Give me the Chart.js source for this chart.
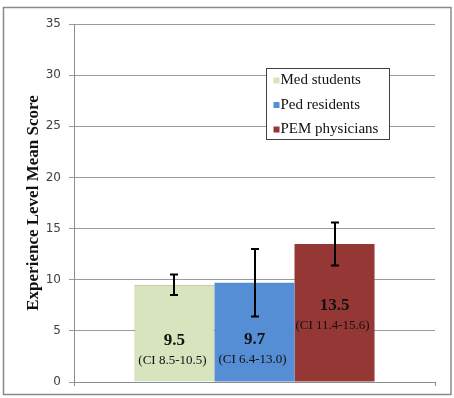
<!DOCTYPE html>
<html>
<head>
<meta charset="utf-8">
<script src="https://cdn.jsdelivr.net/npm/chart.js@4/dist/chart.umd.min.js"></script>
<style>
  html, body { margin: 0; padding: 0; background: #fff; }
  #wrap { width: 454px; height: 398px; position: relative; }
</style>
</head>
<body>
<div id="wrap"><canvas id="c" width="454" height="398"></canvas></div>
<script>
// ---- data ----
const categories = [''];
const groups = ['Med students', 'Ped residents', 'PEM physicians'];
const meanScores = [9.5, 9.7, 13.5];
const ciLow = [8.5, 6.4, 11.4];
const ciHigh = [10.5, 13.0, 15.6];
const ciLabels = ['(CI 8.5-10.5)', '(CI 6.4-13.0)', '(CI 11.4-15.6)'];
const yTicks = [0, 5, 10, 15, 20, 25, 30, 35];

// ---- styles ----
const fillColors = ['#D7E4BD', '#558ED5', '#953735'];
const borderColors = ['#A9BD7E', '#558ED5', '#953735'];
const labelOffsets = [7, 7, -7]; // px offset of value label from bar middle
const serif = '"Liberation Serif", "Times New Roman", serif';

const datasets = groups.map((g, i) => ({
  label: g,
  data: [meanScores[i]],
  backgroundColor: fillColors[i],
  borderColor: borderColors[i],
  borderWidth: i === 0 ? 1 : 0,
  borderSkipped: 'bottom'
}));

const frame = {
  id: 'frame',
  beforeDraw(chart) {
    const ctx = chart.ctx;
    ctx.save();
    ctx.fillStyle = '#fff';
    ctx.fillRect(0, 0, chart.width, chart.height);
    ctx.strokeStyle = '#8a8a8a';
    ctx.lineWidth = 1.5;
    ctx.strokeRect(3.5, 7.5, 447.5, 387);
    ctx.restore();
  }
};

const errorBars = {
  id: 'errorBars',
  afterDatasetsDraw(chart) {
    const ctx = chart.ctx;
    const y = chart.scales.y;
    ctx.save();
    ctx.strokeStyle = '#000';
    ctx.lineWidth = 2;
    chart.data.datasets.forEach((ds, i) => {
      const bar = chart.getDatasetMeta(i).data[0];
      const x = Math.round(bar.x) ;
      const yl = y.getPixelForValue(ciLow[i]);
      const yh = y.getPixelForValue(ciHigh[i]);
      ctx.beginPath();
      ctx.moveTo(x, yl); ctx.lineTo(x, yh);
      ctx.moveTo(x - 4, yl); ctx.lineTo(x + 4, yl);
      ctx.moveTo(x - 4, yh); ctx.lineTo(x + 4, yh);
      ctx.stroke();
    });
    ctx.restore();
  }
};

const barLabels = {
  id: 'barLabels',
  afterDatasetsDraw(chart) {
    const ctx = chart.ctx;
    ctx.save();
    ctx.textAlign = 'center';
    ctx.textBaseline = 'middle';
    ctx.fillStyle = '#111';
    chart.data.datasets.forEach((ds, i) => {
      const bar = chart.getDatasetMeta(i).data[0];
      const mid = (bar.y + bar.base) / 2 + labelOffsets[i];
      ctx.font = 'bold 17px ' + serif;
      ctx.fillText(meanScores[i].toFixed(1), bar.x, mid);
      ctx.font = '13px ' + serif;
      ctx.fillText(ciLabels[i], bar.x - 2, mid + 20);
    });
    ctx.restore();
  }
};

const boxLegend = {
  id: 'boxLegend',
  afterDraw(chart) {
    const ctx = chart.ctx;
    const a = chart.chartArea;
    const left = a.left + 192.5, top = a.top + 44.5, w = 123, h = 71;
    ctx.save();
    ctx.fillStyle = '#fff';
    ctx.fillRect(left, top, w, h);
    ctx.strokeStyle = '#404040';
    ctx.lineWidth = 1;
    ctx.strokeRect(left, top, w, h);
    ctx.font = '15px ' + serif;
    ctx.textBaseline = 'middle';
    ctx.textAlign = 'left';
    chart.data.datasets.forEach((ds, i) => {
      const cy = top + 12 + i * 24.5;
      ctx.fillStyle = ds.backgroundColor;
      ctx.fillRect(left + 7, cy - 3, 6, 6);
      ctx.fillStyle = '#111';
      ctx.fillText(ds.label, left + 14, cy);
    });
    ctx.restore();
  }
};

new Chart(document.getElementById('c'), {
  type: 'bar',
  data: { labels: categories, datasets },
  options: {
    responsive: false,
    animation: false,
    devicePixelRatio: 1,
    layout: { padding: { top: 24, right: 19, left: 0, bottom: 0 } },
    plugins: { legend: { display: false }, tooltip: { enabled: false } },
    datasets: { bar: { categoryPercentage: 0.665, barPercentage: 1 } },
    scales: {
      x: {
        type: 'category',
        offset: true,
        ticks: { display: false },
        grid: { display: true, drawOnChartArea: false, tickLength: 4, color: '#8c8c8c', offset: true },
        border: { display: true, color: '#8c8c8c', width: 1 },
        afterFit(s) { s.height = 16; }
      },
      y: {
        min: 0, max: 35,
        afterBuildTicks(s) { s.ticks = yTicks.map(v => ({ value: v })); },
        ticks: { font: { family: '"DejaVu Sans", Verdana, sans-serif', size: 12 }, color: '#404040', padding: 8 },
        grid: { color: '#9a9a9a', tickLength: 5 },
        border: { display: true, color: '#8c8c8c', width: 1 },
        title: {
          display: true,
          text: 'Experience Level Mean Score',
          font: { family: serif, size: 17, weight: 'bold' },
          color: '#111',
          padding: { top: 23, bottom: 0 }
        },
        afterFit(s) { s.width = 74; }
      }
    }
  },
  plugins: [frame, errorBars, barLabels, boxLegend]
});
</script>
</body>
</html>
